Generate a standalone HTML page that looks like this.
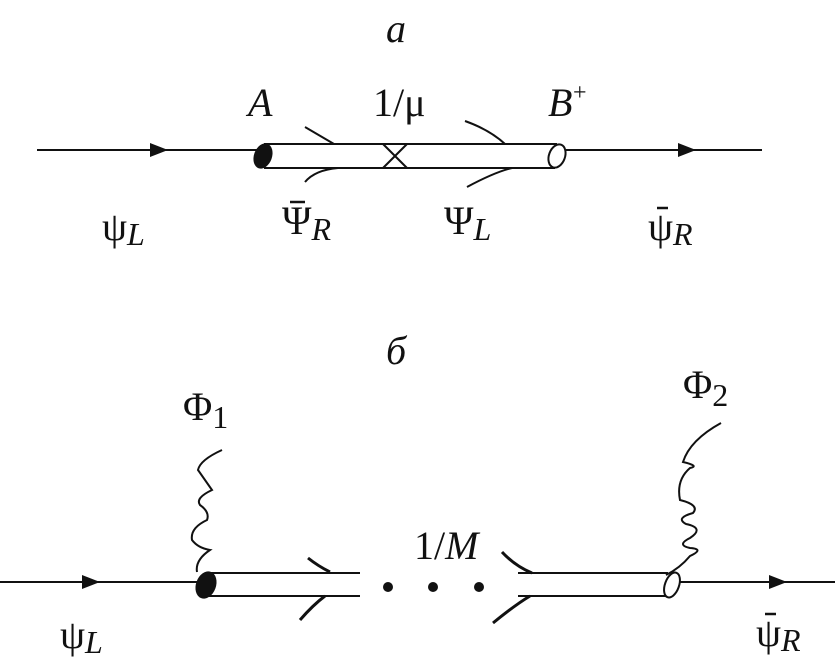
<!DOCTYPE html>
<html><head><meta charset="utf-8"><style>
html,body{margin:0;padding:0;background:#fff;}
svg{display:block;}
text{font-family:"Liberation Serif","DejaVu Serif",serif;font-size:40px;fill:#111;}
.i{font-style:italic;}
.s{font-size:32px;}
</style></head><body>
<svg width="835" height="658" viewBox="0 0 835 658" xmlns="http://www.w3.org/2000/svg">
<g stroke="#111" stroke-width="2" fill="none">
<line x1="37" y1="150" x2="262" y2="150"/>
<line x1="560" y1="150" x2="762" y2="150"/>
<line x1="264" y1="144" x2="557" y2="144"/>
<line x1="264" y1="168" x2="555" y2="168"/>
<line x1="383" y1="144" x2="407" y2="168"/>
<line x1="407" y1="144" x2="383" y2="168"/>
<path d="M305 127 L334 144"/>
<path d="M465 121 Q490 130 505 144"/>
<path d="M338 168 Q315 170 305 182"/>
<path d="M512 168 Q495 172 467 187"/>
<ellipse cx="557" cy="156" rx="8" ry="12" fill="#fff" transform="rotate(20 557 156)"/>
<line x1="0" y1="582" x2="200" y2="582"/>
<line x1="670" y1="582" x2="835" y2="582"/>
<line x1="205" y1="573" x2="360" y2="573"/>
<line x1="205" y1="596" x2="360" y2="596"/>
<line x1="518" y1="573" x2="668" y2="573"/>
<line x1="518" y1="596" x2="666" y2="596"/>
<path d="M308 558 Q318 566 330 572" stroke-width="3"/>
<path d="M325 596 Q313 605 300 620" stroke-width="3"/>
<path d="M502 552 Q515 566 532 573" stroke-width="3"/>
<path d="M530 596 Q515 605 493 623" stroke-width="3"/>
<path d="M222 450 Q200 460 198 470 Q205 480 212 490 Q195 498 200 505 Q210 512 207 520 Q190 528 192 540 Q198 548 210 550 Q195 560 197 572"/>
<path d="M721 423 Q690 440 683 462 Q700 466 690 468 Q676 480 680 500 Q700 505 693 513 Q675 518 686 524 Q705 528 690 538 Q676 545 690 548 Q705 549 690 556 Q680 568 666 575"/>
<ellipse cx="672" cy="585" rx="7" ry="13" fill="#fff" transform="rotate(20 672 585)"/>
<!-- bars -->
<line x1="290" y1="202" x2="305" y2="202" stroke-width="2.5"/>
<line x1="657" y1="208" x2="668" y2="208" stroke-width="2.5"/>
<line x1="765" y1="614" x2="776" y2="614" stroke-width="2.5"/>
</g>
<g fill="#111">
<ellipse cx="263" cy="156" rx="9" ry="13" transform="rotate(20 263 156)"/>
<polygon points="150,143 168,150 150,157"/>
<polygon points="678,143 696,150 678,157"/>
<ellipse cx="206" cy="585" rx="10" ry="14" transform="rotate(20 206 585)"/>
<polygon points="82,575 100,582 82,589"/>
<polygon points="769,575 787,582 769,589"/>
<circle cx="388" cy="587" r="5"/>
<circle cx="433" cy="587" r="5"/>
<circle cx="479" cy="587" r="5"/>
</g>
<text class="i" x="386" y="42">a</text>
<text class="i" x="248" y="116">A</text>
<text x="373" y="116">1/μ</text>
<text class="i" x="548" y="116">B</text><text x="573" y="100" style="font-size:24px">+</text>
<text x="102" y="240">ψ<tspan class="i s" dy="5">L</tspan></text>
<text x="282" y="234">Ψ<tspan class="i s" dy="6">R</tspan></text>
<text x="444" y="234">Ψ<tspan class="i s" dy="6">L</tspan></text>
<text x="648" y="240">ψ<tspan class="i s" dy="5">R</tspan></text>
<text class="i" x="386" y="364">б</text>
<text x="183" y="420">Φ<tspan class="s" dy="8">1</tspan></text>
<text x="683" y="398">Φ<tspan class="s" dy="8">2</tspan></text>
<text x="414" y="559">1/<tspan class="i">M</tspan></text>
<text x="60" y="648">ψ<tspan class="i s" dy="5">L</tspan></text>
<text x="756" y="646">ψ<tspan class="i s" dy="5">R</tspan></text>
</svg>
</body></html>
